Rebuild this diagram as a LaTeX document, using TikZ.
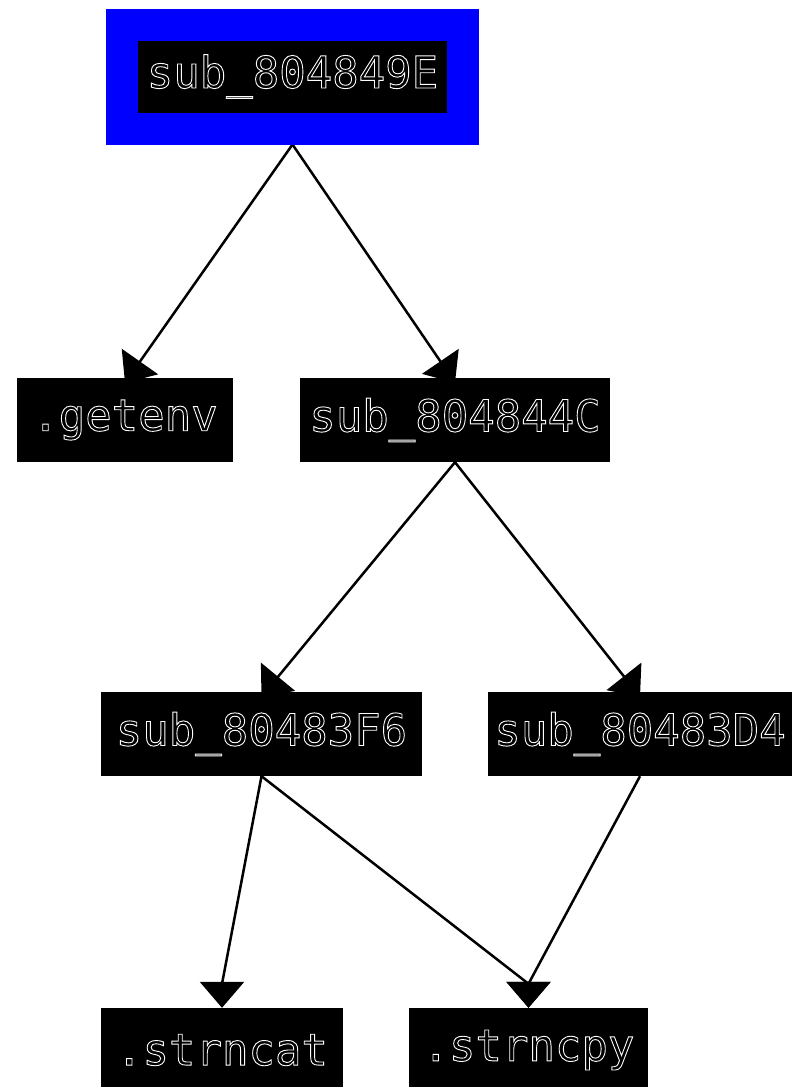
\documentclass[tikz,border=0pt]{standalone}
\usepackage{fontspec}
\newfontfamily\boxfont{DejaVu Sans Mono}
\usetikzlibrary{arrows.meta,calc}
\pgfdeclarelayer{background}
\pgfsetlayers{background,main}
\newcommand\hollowtext[1]{\special{pdf:literal direct 1 Tr 0.9 w}#1\special{pdf:literal direct 0 Tr}}
\tikzset{
  fn/.style={fill=black, text=white, inner sep=0pt, minimum height=84pt, font=\boxfont\fontsize{44}{50}\selectfont},
  topfn/.style={fn, draw={rgb,255:red,0;green,0;blue,255}, line width=32pt, minimum width=341pt, minimum height=104pt},
  call/.style={line width=2.5pt, -{Triangle[width=44pt,length=26pt]}},
}
\begin{document}
\begin{tikzpicture}[x=1pt,y=1pt]
\useasboundingbox (0,0) rectangle (792,-1087);
\node[topfn] (top) at (292.5,-76.5) {\hollowtext{sub\_804849E}};
\node[fn, minimum width=216pt] (getenv) at (125,-420) {\hollowtext{.getenv}};
\node[fn, minimum width=310pt] (c44C) at (455,-420) {\hollowtext{sub\_804844C}};
\node[fn, minimum width=321pt] (f6) at (261.5,-734) {\hollowtext{sub\_80483F6}};
\node[fn, minimum width=304pt] (d4) at (640,-734) {\hollowtext{sub\_80483D4}};
\node[fn, minimum width=242pt] (strncat) at (222,-1050) {\hollowtext{.strncat}};
\node[fn, minimum width=239pt] (strncpy) at (528.5,-1050) {\hollowtext{.strncpy}};
\begin{pgfonlayer}{background}
\draw[call] (top.south) -- ($(getenv.north)+(0,-5)$);
\draw[call] (top.south) -- ($(c44C.north)+(0,-5)$);
\draw[call] (c44C.south) -- ($(f6.north)+(0,-5)$);
\draw[call] (c44C.south) -- ($(d4.north)+(0,-5)$);
\draw[call] (f6.south) -- ($(strncat.north)+(0,24)$) -- (strncat.north);
\draw[call] (f6.south) -- ($(strncpy.north)+(0,24)$) -- (strncpy.north);
\draw[call] (d4.south) -- ($(strncpy.north)+(0,24)$) -- (strncpy.north);
\end{pgfonlayer}
\end{tikzpicture}
\end{document}
